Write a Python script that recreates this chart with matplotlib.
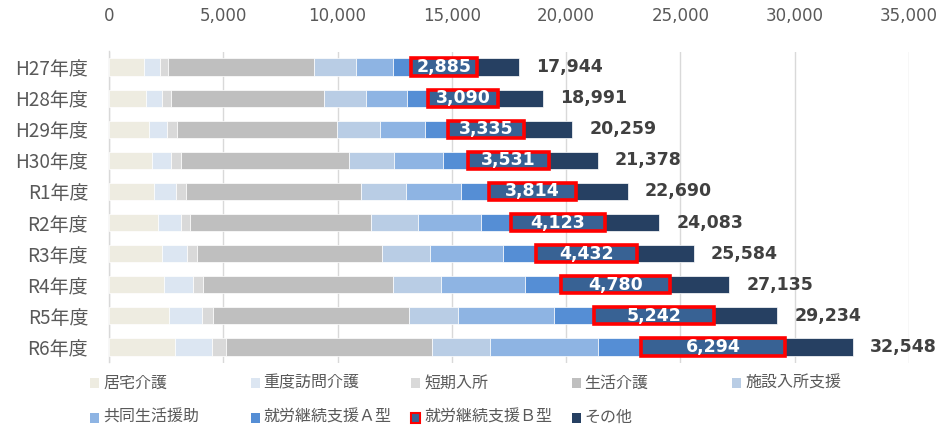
import matplotlib
matplotlib.use("Agg")
import matplotlib.pyplot as plt
from matplotlib.patches import Rectangle
import numpy as np

plt.rcParams['font.family'] = ['Noto Sans CJK JP', 'DejaVu Sans']

years = ["H27年度", "H28年度", "H29年度", "H30年度", "R1年度",
         "R2年度", "R3年度", "R4年度", "R5年度", "R6年度"]
series_names = ["居宅介護", "重度訪問介護", "短期入所", "生活介護", "施設入所支援",
                "共同生活援助", "就労継続支援Ａ型", "就労継続支援Ｂ型", "その他"]

kyotaku   = [1530, 1620, 1750, 1870, 1970, 2130, 2310, 2410, 2620, 2890]
judo      = [700, 710, 790, 840, 950, 1020, 1120, 1260, 1430, 1610]
tanki     = [340, 380, 440, 440, 440, 390, 410, 440, 480, 610]
seikatsu  = [6400, 6690, 7010, 7350, 7670, 7920, 8120, 8310, 8590, 9040]
shisetsu  = [1840, 1840, 1870, 1970, 1970, 2040, 2090, 2100, 2130, 2520]
kyodo     = [1600, 1790, 1970, 2130, 2410, 2770, 3170, 3660, 4200, 4720]
a_type    = [800, 920, 1000, 1110, 1220, 1310, 1450, 1580, 1780, 1880]
b_type    = [2885, 3090, 3335, 3531, 3814, 4123, 4432, 4780, 5242, 6294]
others    = [1849, 1951, 2094, 2137, 2246, 2380, 2482, 2595, 2762, 2984]
totals    = [17944, 18991, 20259, 21378, 22690, 24083, 25584, 27135, 29234, 32548]

series = [kyotaku, judo, tanki, seikatsu, shisetsu, kyodo, a_type, b_type, others]
colors = ["#EEECE1", "#DCE6F2", "#D9D9D9", "#BFBFBF", "#B9CDE5",
          "#8EB4E3", "#558ED5", "#386294", "#264062"]
x_ticks = [0, 5000, 10000, 15000, 20000, 25000, 30000, 35000]

fig = plt.figure(figsize=(9.42, 4.26), dpi=100)
ax = fig.add_axes([109/942, 1-362.5/426, 800/942, 311/426])

y = np.arange(len(years))
left = np.zeros(len(years))
bar_h = 0.55
for i, (vals, c) in enumerate(zip(series, colors)):
    vals = np.array(vals, dtype=float)
    if i == 7:
        ax.barh(y, vals, left=left, height=bar_h, color=c, edgecolor="#FF0000",
                linewidth=2.6, zorder=4)
        for yi, l, v in zip(y, left, vals):
            ax.text(l + v/2, yi, f"{int(v):,}", ha="center", va="center",
                    color="white", fontsize=12.5, fontweight="bold",
                    family="DejaVu Sans", zorder=5)
    else:
        ax.barh(y, vals, left=left, height=bar_h, color=c, edgecolor="white",
                linewidth=0.5, zorder=3)
    left += vals

for yi, t in zip(y, totals):
    ax.text(t + 750, yi, f"{t:,}", ha="left", va="center", color="#404040",
            fontsize=12.5, fontweight="bold", family="DejaVu Sans", zorder=5,
            clip_on=False)

ax.set_xlim(0, 35000)
ax.set_ylim(len(years) - 0.5, -0.5)
ax.set_xticks(x_ticks)
ax.set_xticklabels([f"{v:,}" for v in x_ticks], family="DejaVu Sans",
                   fontsize=12, color="#595959")
ax.xaxis.tick_top()
ax.tick_params(axis="x", length=0, pad=19)
ax.set_yticks(y)
ax.set_yticklabels(years, fontsize=13.7, color="#595959")
ax.tick_params(axis="y", length=0, pad=15)
ax.grid(axis="x", color="#D9D9D9", linewidth=1, zorder=0)
ax.set_axisbelow(True)
for s in ["top", "right", "bottom"]:
    ax.spines[s].set_visible(False)
ax.spines["left"].set_color("#D9D9D9")
ax.spines["left"].set_linewidth(1)

# legend (Excel-like uniform layout)
W, H = 942, 426
for i, (name, c) in enumerate(zip(series_names, colors)):
    row, col = divmod(i, 5)
    mx = 90 + 160.5 * col
    my = 383 + 34.5 * row
    if i == 7:
        rect = Rectangle(((mx) / W, 1 - (my + 5) / H), 9 / W, 10 / H,
                         transform=fig.transFigure, facecolor=c,
                         edgecolor="#FF0000", linewidth=1.5)
    else:
        rect = Rectangle(((mx) / W, 1 - (my + 5) / H), 9 / W, 10 / H,
                         transform=fig.transFigure, facecolor=c,
                         edgecolor="none")
    fig.add_artist(rect)
    fig.text((mx + 13) / W, 1 - my / H, name, ha="left", va="center",
             fontsize=11.5, color="#595959")

fig.savefig("out.png", dpi=100)
